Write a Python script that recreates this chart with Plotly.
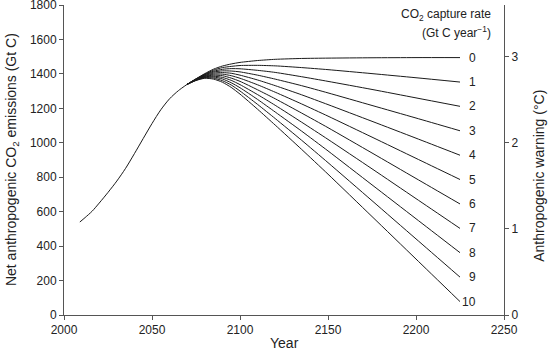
import plotly.graph_objects as go

# Common (pre-divergence) path
years_base = [2009, 2012, 2016, 2020, 2025, 2030, 2035, 2040, 2045, 2050, 2055, 2060, 2065, 2070]
emis_base = [540, 566, 603, 650, 712, 778, 852, 937, 1025, 1112, 1192, 1256, 1303, 1340]

# Scenario paths by CO2 capture rate (Gt C / year)
years_cap = [2070, 2075, 2080, 2085, 2090, 2095, 2100, 2110, 2120, 2135, 2150, 2175, 2200, 2225]
rate_labels = ["0", "1", "2", "3", "4", "5", "6", "7", "8", "9", "10"]
cap0 = [1340, 1372, 1402, 1428, 1446, 1458, 1467, 1478, 1485, 1490, 1492, 1494, 1495, 1495]
cap1 = [1340, 1371, 1399, 1422, 1437, 1444, 1449, 1450, 1447, 1437, 1425, 1402, 1378, 1353]
cap2 = [1340, 1370, 1397, 1416, 1427, 1431, 1430, 1421, 1409, 1384, 1357, 1310, 1261, 1212]
cap3 = [1340, 1369, 1394, 1411, 1418, 1417, 1412, 1393, 1370, 1332, 1290, 1217, 1144, 1070]
cap4 = [1340, 1368, 1391, 1405, 1408, 1404, 1393, 1365, 1332, 1279, 1222, 1125, 1027, 928]
cap5 = [1340, 1367, 1388, 1399, 1399, 1390, 1375, 1337, 1294, 1226, 1155, 1033, 910, 787]
cap6 = [1340, 1366, 1386, 1393, 1390, 1376, 1357, 1308, 1256, 1173, 1088, 941, 793, 645]
cap7 = [1340, 1365, 1383, 1387, 1380, 1363, 1338, 1280, 1218, 1120, 1020, 849, 676, 503]
cap8 = [1340, 1364, 1380, 1382, 1371, 1349, 1320, 1252, 1179, 1068, 953, 756, 559, 362]
cap9 = [1340, 1363, 1378, 1376, 1361, 1336, 1301, 1223, 1141, 1015, 885, 664, 442, 220]
cap10 = [1340, 1362, 1375, 1370, 1352, 1322, 1283, 1195, 1103, 962, 818, 572, 325, 78]
series = [cap0, cap1, cap2, cap3, cap4, cap5, cap6, cap7, cap8, cap9, cap10]

x_ticks = [2000, 2050, 2100, 2150, 2200, 2250]
y_ticks = [0, 200, 400, 600, 800, 1000, 1200, 1400, 1600, 1800]
y2_ticks = [0, 1, 2, 3]

FONT = "Liberation Sans, Arial, sans-serif"
LINE = "#1a1a1a"
AX = "#555555"
TXT = "#222222"

fig = go.Figure()
fig.add_trace(go.Scatter(x=years_base, y=emis_base, mode="lines",
                         line=dict(color=LINE, width=1, shape="spline", smoothing=0.8),
                         showlegend=False, hoverinfo="skip"))
for lab, ys in zip(rate_labels, series):
    fig.add_trace(go.Scatter(x=years_cap, y=ys, mode="lines",
                             line=dict(color=LINE, width=1, shape="spline", smoothing=0.6),
                             showlegend=False, hoverinfo="skip"))
    fig.add_annotation(x=2235.5, y=ys[-1], text=lab, showarrow=False,
                       xanchor="right", yanchor="middle",
                       font=dict(family=FONT, size=12, color=TXT))

# invisible trace for secondary axis
fig.add_trace(go.Scatter(x=[2000], y=[0], yaxis="y2", mode="markers",
                         marker=dict(opacity=0), showlegend=False, hoverinfo="skip"))

fig.add_annotation(x=2244, y=1742, text="CO<sub>2</sub> capture rate", showarrow=False,
                   xanchor="right", yanchor="middle",
                   font=dict(family=FONT, size=12, color=TXT))
fig.add_annotation(x=2244, y=1645, text="(Gt C year<sup>\u22121</sup>)", showarrow=False,
                   xanchor="right", yanchor="middle",
                   font=dict(family=FONT, size=12, color=TXT))

# axis titles as annotations (precise placement)
fig.add_annotation(xref="paper", yref="paper", x=0.5, y=-0.09,
                   text="Year", showarrow=False, xanchor="center", yanchor="middle",
                   font=dict(family=FONT, size=14, color=TXT))
fig.add_annotation(xref="paper", yref="paper", x=-0.118, y=0.5,
                   text="Net anthropogenic CO<sub>2</sub> emissions (Gt C)", textangle=-90,
                   showarrow=False, xanchor="center", yanchor="middle",
                   font=dict(family=FONT, size=14, color=TXT))
fig.add_annotation(xref="paper", yref="paper", x=1.078, y=0.45,
                   text="Anthropogenic warning (\u00b0C)", textangle=-90,
                   showarrow=False, xanchor="center", yanchor="middle",
                   font=dict(family=FONT, size=14, color=TXT))

axis_common = dict(showgrid=False, zeroline=False, showline=True, linecolor=AX, linewidth=1,
                   ticks="outside", ticklen=4, tickcolor=AX, automargin=False,
                   ticklabeloverflow="allow",
                   tickfont=dict(family=FONT, size=12, color=TXT))

fig.update_layout(
    width=550, height=354,
    margin=dict(l=64, r=46, t=5, b=39),
    paper_bgcolor="white", plot_bgcolor="white",
    xaxis=dict(range=[2000, 2250], tickvals=x_ticks, **axis_common),
    yaxis=dict(range=[0, 1800.5], tickvals=y_ticks, **axis_common),
    yaxis2=dict(range=[0, 3.601], tickvals=y2_ticks, overlaying="y", side="right",
                **axis_common),
)

fig.write_html("out.html", config={"displayModeBar": False},
               post_script="document.body.style.margin='0';")
